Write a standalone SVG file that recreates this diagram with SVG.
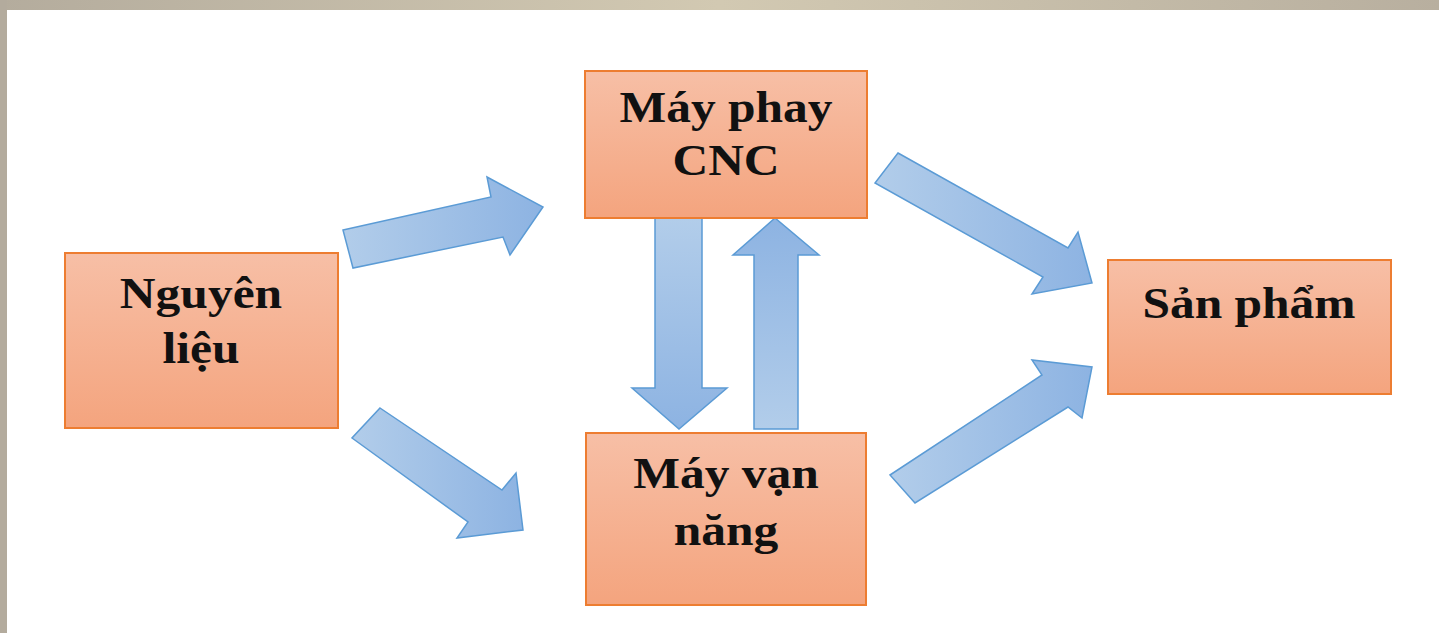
<svg xmlns="http://www.w3.org/2000/svg" width="1439" height="633" viewBox="0 0 1439 633">
  <defs>
    <linearGradient id="bandTop" x1="0" y1="0" x2="1" y2="0">
      <stop offset="0" stop-color="#B4AC9D"/>
      <stop offset="0.5" stop-color="#D2C9B2"/>
      <stop offset="1" stop-color="#B8AF9F"/>
    </linearGradient>
    <linearGradient id="boxFill" x1="0" y1="0" x2="0" y2="1">
      <stop offset="0" stop-color="#F7BFA6"/>
      <stop offset="1" stop-color="#F4A47E"/>
    </linearGradient>
    <linearGradient id="arrR" x1="0" y1="0" x2="1" y2="0">
      <stop offset="0" stop-color="#B2CDEA"/>
      <stop offset="1" stop-color="#8DB3E2"/>
    </linearGradient>
    <linearGradient id="arrD" x1="0" y1="0" x2="0" y2="1">
      <stop offset="0" stop-color="#B2CDEA"/>
      <stop offset="1" stop-color="#8DB3E2"/>
    </linearGradient>
    <linearGradient id="arrU" x1="0" y1="1" x2="0" y2="0">
      <stop offset="0" stop-color="#B2CDEA"/>
      <stop offset="1" stop-color="#8DB3E2"/>
    </linearGradient>
  </defs>
  <style>
    .box { fill: url(#boxFill); stroke: #ED7D31; stroke-width: 2; }
    .lbl { font-family: "Liberation Serif", "Times New Roman", serif; font-weight: bold; font-size: 45px; fill: #111; text-anchor: middle; }
    .arrow { stroke: #5B9BD5; stroke-width: 1.5; stroke-linejoin: miter; }
  </style>

  <rect x="0" y="0" width="1439" height="633" fill="#FFFFFF"/>
  <rect x="0" y="0" width="1439" height="10" fill="url(#bandTop)"/>
  <rect x="0" y="0" width="7" height="633" fill="#B3AB9D"/>

  <g id="connectors">
    <polygon class="arrow" fill="url(#arrR)" points="343,230 491,197 487,177 543,207 510,255 503,237 353,268"/>
    <polygon class="arrow" fill="url(#arrR)" points="380,408 502,490 516,473 523,530 457,538 468,522 352,438"/>
    <polygon class="arrow" fill="url(#arrD)" points="655,218 702,218 702,388 727,388 679,429 632,388 655,388"/>
    <polygon class="arrow" fill="url(#arrU)" points="754,429 798,429 798,255 819,255 775,218 733,255 754,255"/>
    <polygon class="arrow" fill="url(#arrR)" points="898,153 1068,248 1078,232 1092,283 1032,294 1043,277 875,183"/>
    <polygon class="arrow" fill="url(#arrR)" points="890,475 1042,375 1032,360 1092,367 1082,418 1068,407 915,503"/>
  </g>

  <g id="node-nguyen-lieu">
    <rect class="box" x="65" y="253" width="273" height="175"/>
    <g transform="translate(201,0) scale(1.1,1)">
      <text class="lbl" x="0" y="308">Nguyên</text>
      <text class="lbl" x="0" y="363">liệu</text>
    </g>
  </g>

  <g id="node-may-phay-cnc">
    <rect class="box" x="585" y="71" width="282" height="147"/>
    <g transform="translate(726,0) scale(1.1,1)">
      <text class="lbl" x="0" y="122">Máy phay</text>
      <text class="lbl" x="0" y="175">CNC</text>
    </g>
  </g>

  <g id="node-may-van-nang">
    <rect class="box" x="586" y="433" width="280" height="172"/>
    <g transform="translate(726,0) scale(1.1,1)">
      <text class="lbl" x="0" y="488">Máy vạn</text>
      <text class="lbl" x="0" y="545">năng</text>
    </g>
  </g>

  <g id="node-san-pham">
    <rect class="box" x="1108" y="260" width="283" height="134"/>
    <g transform="translate(1249,0) scale(1.1,1)">
      <text class="lbl" x="0" y="318">Sản phẩm</text>
    </g>
  </g>
</svg>
